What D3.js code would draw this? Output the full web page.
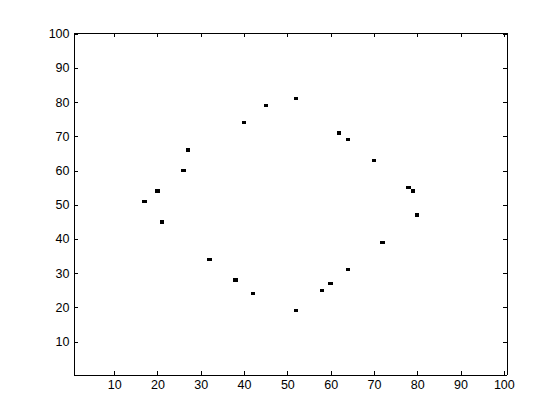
<!DOCTYPE html>
<html>
<head>
<meta charset="utf-8">
<script src="https://cdn.jsdelivr.net/npm/d3@7"></script>
<style>
  html, body { margin: 0; padding: 0; background: #fff; }
  svg text { font-family: "Liberation Sans", Arial, Helvetica, sans-serif; font-size: 12.5px; fill: #000; }
</style>
</head>
<body>
<svg id="chart" width="560" height="420"></svg>
<script>
// black cells of the 100x100 image (column, row)
var cellCols = [52, 45, 40, 62, 64, 27, 70, 26, 20, 78, 79, 17, 80, 21, 72, 32, 64, 38, 60, 42, 58, 52];
var cellRows = [81, 79, 74, 71, 69, 66, 63, 60, 54, 55, 54, 51, 47, 45, 39, 34, 31, 28, 27, 24, 25, 19];
var xTicks = [10, 20, 30, 40, 50, 60, 70, 80, 90, 100];
var yTicks = [10, 20, 30, 40, 50, 60, 70, 80, 90, 100];

var svg = d3.select("#chart");
// note: "top" is a reserved window property, so use other names
var axLeft = 73, axRight = 506, axTop = 32, axBottom = 374;

// image pixels run from 0.5 to 100.5 on both axes
var x = d3.scaleLinear().domain([0.5, 100.5]).range([axLeft, axRight]);
var y = d3.scaleLinear().domain([0.5, 100.5]).range([axBottom, axTop]);

var cells = cellCols.map(function (c, i) { return { c: c, r: cellRows[i] }; });

svg.append("g").selectAll("rect").data(cells).enter()
    .append("rect")
    .attr("x", function (d) { return Math.round(x(d.c - 0.5)); })
    .attr("width", function (d) { return Math.round(x(d.c + 0.5)) - Math.round(x(d.c - 0.5)); })
    .attr("y", function (d) { return Math.round(y(d.r + 0.5)); })
    .attr("height", function (d) { return Math.round(y(d.r - 0.5)) - Math.round(y(d.r + 0.5)); })
    .attr("fill", "#000")
    .attr("shape-rendering", "crispEdges");

// axes, ticks pointing inward, mirrored on top and right
var xAxisB = d3.axisBottom(x).tickValues(xTicks).tickSizeInner(-4).tickSizeOuter(0).tickPadding(6);
var xAxisT = d3.axisTop(x).tickValues(xTicks).tickSizeInner(-4).tickSizeOuter(0).tickFormat("");
var yAxisL = d3.axisLeft(y).tickValues(yTicks).tickSizeInner(-4).tickSizeOuter(0).tickPadding(4);
var yAxisR = d3.axisRight(y).tickValues(yTicks).tickSizeInner(-4).tickSizeOuter(0).tickFormat("");

function styleAxis(g) {
    g.attr("shape-rendering", "crispEdges");
    g.select(".domain").attr("stroke", "#000").attr("stroke-width", 1);
    g.selectAll(".tick line").attr("stroke", "#000").attr("stroke-width", 1);
    g.selectAll(".tick text").attr("font-family", null).attr("font-size", null).attr("fill", "#000");
}

svg.append("g").attr("transform", "translate(0," + (axBottom + 0.5) + ")").call(xAxisB).call(styleAxis);
svg.append("g").attr("transform", "translate(0," + (axTop + 0.5) + ")").call(xAxisT).call(styleAxis);
svg.append("g").attr("transform", "translate(" + (axLeft + 0.5) + ",0)").call(yAxisL).call(styleAxis);
svg.append("g").attr("transform", "translate(" + (axRight + 0.5) + ",0)").call(yAxisR).call(styleAxis);
</script>
</body>
</html>
